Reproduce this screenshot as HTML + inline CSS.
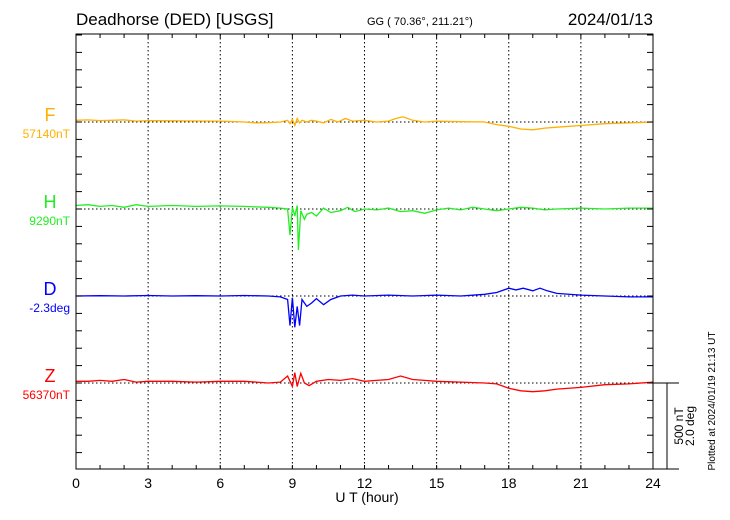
<!DOCTYPE html>
<html><head><meta charset="utf-8"><style>
body{margin:0;background:#fff;}
svg{display:block;font-family:"Liberation Sans",sans-serif;}
</style></head><body>
<svg id="chart" width="730" height="520" viewBox="0 0 730 520" xmlns="http://www.w3.org/2000/svg">
<text x="76" y="25" font-size="17">Deadhorse (DED)  [USGS]</text>
<text x="367" y="25" font-size="11">GG ( 70.36°, 211.21°)</text>
<text x="653" y="25" font-size="17" text-anchor="end">2024/01/13</text>
<g id="grid"></g>
<g id="series"></g>
<rect x="76" y="34" width="577" height="435" fill="none" stroke="#000" stroke-width="1"/>
<g id="axes"></g>
<text x="367" y="502" font-size="14" text-anchor="middle">U T (hour)</text>
<g stroke="#000" stroke-width="1">
<line x1="653" y1="383" x2="679" y2="383"/><line x1="653" y1="469" x2="679" y2="469"/><line x1="667" y1="383" x2="667" y2="469"/>
</g>
<text transform="translate(683,426) rotate(-90)" font-size="12" text-anchor="middle"><tspan x="0" dy="0">500 nT</tspan><tspan x="0" dy="11">2.0 deg</tspan></text>
<text transform="translate(715,401) rotate(-90)" font-size="10" text-anchor="middle">Plotted at 2024/01/19 21:13 UT</text>
</svg>
<script>
const names=["F","H","D","Z"];
const baseLabels=["57140nT","9290nT","-2.3deg","56370nT"];
const colors=["#ffb000","#22ee22","#0000ff","#ff0000"];
const xTicks=[0,3,6,9,12,15,18,21,24];
const tF=[0,0.5,1,1.5,2,2.5,3,4,5,6,6.5,7,7.5,8,8.5,8.8,8.9,9,9.1,9.2,9.3,9.4,9.6,9.8,10,10.3,10.6,10.9,11.2,11.5,12,12.5,13,13.3,13.6,14,14.5,15,16,17,17.5,18,18.5,19,19.5,20,21,22,23,24];
const vF=[10,12,8,10,12,5,8,7,6,5,3,0,-5,-4,0,10,-10,15,-20,20,-5,10,0,10,5,-5,15,0,20,5,10,0,5,20,30,10,0,5,2,0,-15,-25,-40,-45,-35,-30,-20,-10,-5,0];
const tH=[0,0.5,1,1.5,2,2.5,3,4,5,6,7,7.5,8,8.5,8.8,8.9,9,9.1,9.2,9.25,9.35,9.5,9.6,9.8,10,10.3,10.6,11,11.3,11.6,12,12.5,13,13.5,14,14.5,15,15.5,16,16.5,17,17.5,18,18.5,19,19.5,20,21,22,23,24];
const vH=[20,25,15,20,10,25,15,20,15,18,15,12,10,5,0,-150,10,-40,20,-235,-10,-60,-30,-20,-40,5,-20,-10,10,-15,0,-5,5,-15,-10,-25,-5,5,-5,10,0,-10,0,10,5,-5,0,5,0,5,5];
const tD=[0,1,2,3,4,5,6,7,8,8.5,8.8,8.9,9,9.1,9.2,9.3,9.4,9.6,9.8,10,10.3,10.6,11,11.5,12,13,14,15,16,17,17.5,18,18.3,18.6,19,19.3,19.6,20,21,22,23,24];
const vD=[0,2,0,3,0,2,0,3,0,-5,-20,-170,-10,-180,-60,-170,-20,-60,-40,-15,-50,-20,0,5,0,5,0,5,0,10,20,45,35,45,30,45,30,15,5,0,-5,-5];
const tZ=[0,0.5,1,1.5,2,2.5,3,4,5,6,7,7.5,8,8.5,8.8,8.9,9,9.1,9.2,9.35,9.5,9.7,10,10.5,11,11.5,12,12.5,13,13.5,14,14.5,15,16,17,17.5,18,18.5,19,19.5,20,21,22,23,24];
const vZ=[10,10,15,10,20,5,10,10,5,10,10,5,0,5,40,10,-20,60,-20,55,0,-15,10,20,15,25,10,15,20,40,20,15,10,5,0,-5,-30,-45,-50,-45,-35,-25,-10,-5,5];
const times=[tF,tH,tD,tZ];
const vals=[vF,vH,vD,vZ];
const baseY=[122,209,296,383];
const X0=76,X1=653;
const xs=h=>X0+(X1-X0)*h/24;
const ys=(i,v)=>baseY[i]-v*87/500;
const NS="http://www.w3.org/2000/svg";
function mk(tag,attrs,parent){const e=document.createElementNS(NS,tag);for(const k in attrs)e.setAttribute(k,attrs[k]);parent.appendChild(e);return e;}
const grid=document.getElementById('grid'),axes=document.getElementById('axes'),ser=document.getElementById('series');
xTicks.forEach(h=>{
 if(h>0&&h<24){const g=mk('line',{x1:xs(h),x2:xs(h),y1:34,y2:469,stroke:'#000','stroke-dasharray':'1.5,2.5'},grid);
 
 }
 const t=mk('text',{x:xs(h),y:488,'font-size':14,'text-anchor':'middle'},axes);t.textContent=h;
 
 
});
for(let h=1;h<24;h++){
 mk('line',{x1:xs(h),x2:xs(h),y1:469,y2:465,stroke:'#000'},axes);
 mk('line',{x1:xs(h),x2:xs(h),y1:34,y2:38,stroke:'#000'},axes);
}
for(let y=baseY[0]-87;y<=470;y+=87/5){
 if(y<35||y>468)continue;
 mk('line',{x1:76,x2:82,y1:y,y2:y,stroke:'#000'},axes);
 mk('line',{x1:647,x2:653,y1:y,y2:y,stroke:'#000'},axes);
}
names.forEach((n,i)=>{
 const g=mk('line',{x1:76,x2:653,y1:baseY[i],y2:baseY[i],stroke:'#000','stroke-dasharray':'1.5,2.5'},grid);
 
 
 const a=mk('text',{x:50,y:baseY[i]-1,'font-size':18,'text-anchor':'middle',fill:colors[i]},axes);a.textContent=n;
 
 
 const b=mk('text',{x:70,y:baseY[i]+16,'font-size':12,'text-anchor':'end',fill:colors[i]},axes);b.textContent=baseLabels[i];
 
 
 const pts=times[i].map((t,j)=>xs(t).toFixed(1)+','+ys(i,vals[i][j]).toFixed(1)).join(' ');
 const p=mk('polyline',{points:pts,fill:'none',stroke:colors[i],'stroke-width':1.3},ser);
 
 
});
</script>
</body></html>
